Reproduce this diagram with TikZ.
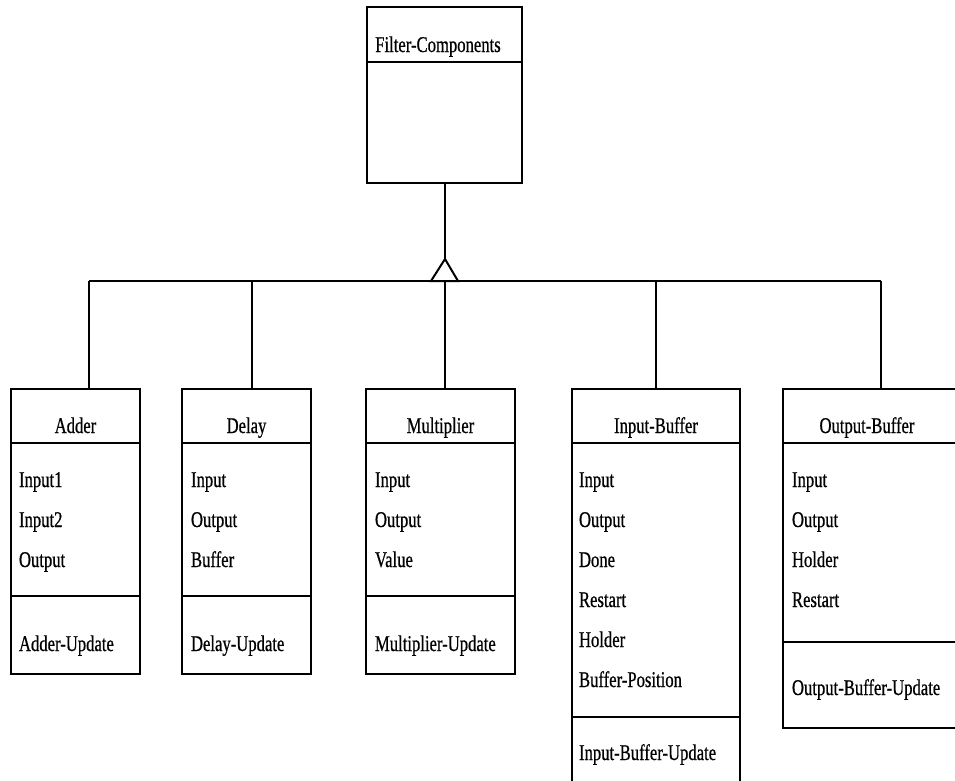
\documentclass[tikz,border=0pt]{standalone}
\usepackage{fontspec}
\setmainfont{Liberation Serif}[FakeStretch=0.74,FakeBold=0.6]
\begin{document}
\begin{tikzpicture}[x=1pt,y=-1pt,line width=2pt,
  cls/.style={draw,rectangle,inner sep=0pt,outer sep=0pt,anchor=north west},
  lbl/.style={font=\fontsize{22.5}{25}\selectfont,inner sep=0pt,anchor=base},
  item/.style={lbl,anchor=base west}]
\useasboundingbox (0,0) rectangle (955,780);
% class boxes
\node[cls,minimum width=155pt,minimum height=176pt] (filter) at (367,7) {};
\node[cls,minimum width=129pt,minimum height=285pt] (adder) at (11,389) {};
\node[cls,minimum width=129pt,minimum height=285pt] (delay) at (182,389) {};
\node[cls,minimum width=149pt,minimum height=285pt] (mult) at (366,389) {};
\node[cls,minimum width=168pt,minimum height=420pt] (inbuf) at (572,389) {};
\node[cls,minimum width=190pt,minimum height=339pt] (outbuf) at (783,389) {};
% dividers
\draw (filter.west |- 0,62) -- (filter.east |- 0,62);
\foreach \b in {adder,delay,mult,inbuf,outbuf}{
  \draw (\b.west |- 0,443) -- (\b.east |- 0,443);
}
\foreach \b in {adder,delay,mult}{
  \draw (\b.west |- 0,596) -- (\b.east |- 0,596);
}
\draw (inbuf.west |- 0,717) -- (inbuf.east |- 0,717);
\draw (outbuf.west |- 0,642) -- (outbuf.east |- 0,642);
% titles
\node[lbl] (tfilter) at (438,52) {Filter-Components};
\node[lbl] (tadder) at (75.5,433) {Adder};
\node[lbl] (tdelay) at (246.5,433) {Delay};
\node[lbl] (tmult) at (440.5,433) {Multiplier};
\node[lbl] (tinbuf) at (656,433) {Input-Buffer};
\node[lbl] (toutbuf) at (867,433) {Output-Buffer};
% attributes
\node[item] (a1) at (18,487) {Input1};
\node[item] (a2) at (18,527) {Input2};
\node[item] (a3) at (18,567) {Output};
\node[item] (a4) at (18,651) {Adder-Update};
\node[item] (d1) at (190,487) {Input};
\node[item] (d2) at (190,527) {Output};
\node[item] (d3) at (190,567) {Buffer};
\node[item] (d4) at (190,651) {Delay-Update};
\node[item] (m1) at (374,487) {Input};
\node[item] (m2) at (374,527) {Output};
\node[item] (m3) at (374,567) {Value};
\node[item] (m4) at (374,651) {Multiplier-Update};
\node[item] (i1) at (578,487) {Input};
\node[item] (i2) at (578,527) {Output};
\node[item] (i3) at (578,567) {Done};
\node[item] (i4) at (578,607) {Restart};
\node[item] (i5) at (578,647) {Holder};
\node[item] (i6) at (578,687) {Buffer-Position};
\node[item] (i7) at (578,760) {Input-Buffer-Update};
\node[item] (o1) at (791,487) {Input};
\node[item] (o2) at (791,527) {Output};
\node[item] (o3) at (791,567) {Holder};
\node[item] (o4) at (791,607) {Restart};
\node[item] (o5) at (791,695) {Output-Buffer-Update};
% inheritance
\coordinate (apex) at (445,259);
\coordinate (bl) at (431,281);
\coordinate (br) at (458,281);
\coordinate (dA) at (89,281);
\coordinate (dD) at (252,281);
\coordinate (dM) at (445,281);
\coordinate (dI) at (656,281);
\coordinate (dO) at (881,281);
\draw (filter.south -| apex) -- (apex);
\draw (apex) -- (bl) -- (br) -- cycle;
\draw (dA) -- (dO);
\draw (dA) -- (dA |- adder.north);
\draw (dD) -- (dD |- delay.north);
\draw (dM) -- (dM |- mult.north);
\draw (dI) -- (dI |- inbuf.north);
\draw (dO) -- (dO |- outbuf.north);
\end{tikzpicture}
\end{document}
